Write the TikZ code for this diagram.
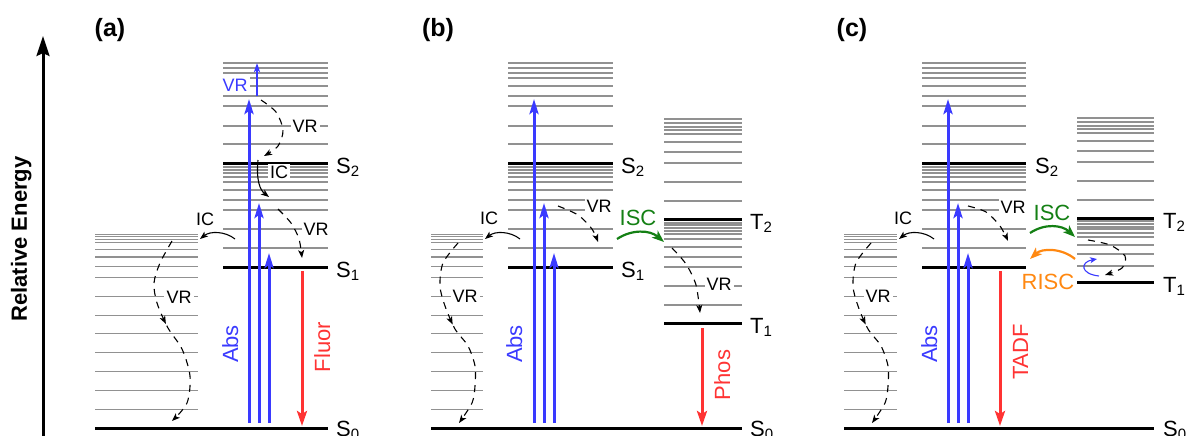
\documentclass[tikz,border=0pt]{standalone}
\usepackage{fontspec}
\setmainfont{Liberation Sans}
\usetikzlibrary{arrows.meta,decorations.markings}
\definecolor{absblue}{RGB}{58,58,255}
\definecolor{emred}{RGB}{255,51,51}
\definecolor{iscgreen}{RGB}{20,128,20}
\definecolor{riscorange}{RGB}{255,136,17}
\definecolor{vibgray}{RGB}{145,145,145}
\newcommand\sublvl[2]{#1\raisebox{-3pt}{\fontsize{15pt}{15pt}\selectfont #2}}
\newcommand\vibset[4]{\foreach \o in #4 {\draw[vib] (#1,#3-\o) -- (#2,#3-\o);}}
\def\groundvib{234.3,236.7,239.3,242.7,249.3,257,266.7,277.7,296.7,315.3,333.7,352.7,371.7,390.3,409.3}
\def\lowman{19,38,57,67,77,85,90,94,97,100}
\def\upman{19,37,57,67,77,85,90,95,100}
\def\tlowman{18,37,56,66,76,84,89,92,95,98,100}
\def\tupman{18,37,56,67,77,85,89,92,96,100}
\def\tlowmanc{16,28,37,45,49,53,55,58,61}
\tikzset{
  vib/.style={draw=vibgray, line width=1.5pt},
  elevel/.style={draw=black, line width=3pt},
  yaxisarrow/.style={draw=black, line width=3pt, -{Stealth[length=20pt,width=13pt,inset=3pt]}},
  absarrow/.style={draw=absblue, line width=3pt, -{Stealth[length=15pt,width=9pt,inset=3pt]}},
  emarrow/.style={draw=emred, line width=3pt, -{Stealth[length=15pt,width=10pt,inset=3pt]}},
  icarrow/.style={draw=black, line width=1.1pt, -{Stealth[length=8pt,width=6pt,inset=2pt]}},
  vrarrow/.style={icarrow, dash pattern=on 7pt off 6pt},
  midarrow/.style={postaction={decorate}, decoration={markings, mark=at position #1 with {\arrow{Stealth[length=8pt,width=6pt,inset=2pt]}}}},
  bigcurve/.style={line width=2.2pt, -{Stealth[length=12pt,width=9pt,inset=3pt]}},
  lvllabel/.style={anchor=base west, inner sep=0pt, font=\fontsize{22pt}{22pt}\selectfont},
  smalllab/.style={fill=white, inner sep=2pt, font=\fontsize{18pt}{18pt}\selectfont},
  midlab/.style={inner sep=0pt, font=\fontsize{22pt}{22pt}\selectfont},
  rotlabel/.style={rotate=90, anchor=base, inner sep=0pt, font=\fontsize{22pt}{22pt}\selectfont},
  panellab/.style={inner sep=0pt, font=\fontsize{25pt}{25pt}\bfseries\selectfont},
}
\begin{document}
\begin{tikzpicture}[x=1pt,y=-1pt]
\useasboundingbox (0,0) rectangle (1188,436);

% ---------- energy axis
\coordinate (axbot) at (43,440);
\coordinate (axtop) at (43,36);
\draw[yaxisarrow] (axbot) -- (axtop);
\node[rotate=90, anchor=base, inner sep=0pt, font=\fontsize{22pt}{22pt}\bfseries\selectfont] (ylab) at (27,239) {Relative Energy};

% =====================================================  panel (a)
\node[panellab] (pa) at (110,30) {(a)};
\foreach \y in \groundvib {\draw[vib] (95,\y) -- (198,\y);}
\vibset{223}{328}{267}{\lowman}
\vibset{223}{328}{163}{\upman}
\draw[elevel] (95,428) -- (328,428);
\draw[elevel] (223,267) -- (328,267);
\draw[elevel] (223,163) -- (328,163);
\node[lvllabel] (aS2) at (336,173) {\sublvl{S}{2}};
\node[lvllabel] (aS1) at (336,277) {\sublvl{S}{1}};
\node[lvllabel] (aS0) at (336,436) {\sublvl{S}{0}};
% labels
\node[smalllab, text=absblue] (aVRb) at (235,85) {VR};
\node[smalllab] (aVR1) at (305,126) {VR};
\node[smalllab] (aIC1) at (279,172) {IC};
\node[smalllab] (aVR2) at (316,229) {VR};
\node[smalllab] (aIC2) at (205,219) {IC};
\node[smalllab] (aVR3) at (179,297) {VR};
\node[rotlabel, text=absblue] (aAbs) at (238,344) {Abs};
\node[rotlabel, text=emred] (aFl) at (330,347) {Fluor};
% absorption
\coordinate (aA1b) at (249,423); \coordinate (aA1t) at (249,99);
\coordinate (aA2b) at (259,423); \coordinate (aA2t) at (259,203);
\coordinate (aA3b) at (269,423); \coordinate (aA3t) at (269,253);
\draw[absarrow] (aA1b) -- (aA1t);
\draw[absarrow] (aA2b) -- (aA2t);
\draw[absarrow] (aA3b) -- (aA3t);
\coordinate (aVb) at (257,96); \coordinate (aVt) at (257,63);
\draw[draw=absblue, line width=1.8pt, -{Stealth[length=9pt,width=6pt,inset=2pt]}] (aVb) -- (aVt);
% emission
\coordinate (aFs) at (302,271); \coordinate (aFe) at (302,426);
\draw[emarrow] (aFs) -- (aFe);
% relaxation
\coordinate (aR1s) at (261,100); \coordinate (aR1e) at (264,156);
\draw[vrarrow] plot[smooth] coordinates {(aR1s) (276,112) (283,130) (278,146) (aR1e)};
\coordinate (aI1s) at (258,160); \coordinate (aI1e) at (269,197);
\draw[icarrow] (aI1s) .. controls (256,180) and (260,190) .. (aI1e);
\coordinate (aR2s) at (278,209); \coordinate (aR2e) at (302,258);
\draw[vrarrow] plot[smooth] coordinates {(aR2s) (291,223) (299,239) (aR2e)};
\coordinate (aI2s) at (235,239); \coordinate (aI2e) at (200,239);
\draw[icarrow] (aI2s) .. controls (225,231) and (210,231) .. (aI2e);
\coordinate (aR3s) at (172,241); \coordinate (aR3e) at (172,421);
\draw[vrarrow, midarrow=0.45] plot[smooth] coordinates {(aR3s) (160,263) (154,283) (157,303) (168,328) (182,349) (190,376) (187,403) (aR3e)};

% =====================================================  panel (b)
\node[panellab] (pb) at (438,30) {(b)};
\foreach \y in \groundvib {\draw[vib] (431,\y) -- (483,\y);}
\vibset{508}{613}{267}{\lowman}
\vibset{508}{613}{163}{\upman}
\vibset{664}{742}{323}{\tlowman}
\vibset{664}{742}{219}{\tupman}
\draw[elevel] (431,428) -- (742,428);
\draw[elevel] (508,267) -- (613,267);
\draw[elevel] (508,163) -- (613,163);
\draw[elevel] (664,323) -- (742,323);
\draw[elevel] (664,219) -- (742,219);
\node[lvllabel] (bS2) at (621,173) {\sublvl{S}{2}};
\node[lvllabel] (bS1) at (621,277) {\sublvl{S}{1}};
\node[lvllabel] (bT2) at (750,229) {\sublvl{T}{2}};
\node[lvllabel] (bT1) at (750,333) {\sublvl{T}{1}};
\node[lvllabel] (bS0) at (750,436) {\sublvl{S}{0}};
\node[smalllab] (bIC) at (489,218) {IC};
\node[smalllab] (bVR1) at (599,206) {VR};
\node[smalllab] (bVR2) at (465,296) {VR};
\node[smalllab] (bVR3) at (719,284) {VR};
\node[midlab, text=iscgreen] (bISC) at (638,218) {ISC};
\node[rotlabel, text=absblue] (bAbs) at (522,344) {Abs};
\node[rotlabel, text=emred] (bPh) at (730,375) {Phos};
\coordinate (bA1b) at (534,423); \coordinate (bA1t) at (534,99);
\coordinate (bA2b) at (544,423); \coordinate (bA2t) at (544,203);
\coordinate (bA3b) at (554,423); \coordinate (bA3t) at (554,253);
\draw[absarrow] (bA1b) -- (bA1t);
\draw[absarrow] (bA2b) -- (bA2t);
\draw[absarrow] (bA3b) -- (bA3t);
\coordinate (bPs) at (702,328); \coordinate (bPe) at (702,426);
\draw[emarrow] (bPs) -- (bPe);
\coordinate (bI1s) at (520,239); \coordinate (bI1e) at (485,239);
\draw[icarrow] (bI1s) .. controls (510,231) and (495,231) .. (bI1e);
\coordinate (bR1s) at (558,206); \coordinate (bR1e) at (598,242);
\draw[vrarrow] plot[smooth] coordinates {(bR1s) (578,215) (592,229) (bR1e)};
\coordinate (bR2s) at (458,243); \coordinate (bR2e) at (459,423);
\draw[vrarrow, midarrow=0.45] plot[smooth] coordinates {(bR2s) (443,263) (440,286) (445,306) (455,329) (468,346) (475,366) (475,386) (472,403) (bR2e)};
\coordinate (bISs) at (617,239); \coordinate (bISe) at (664,242);
\draw[bigcurve, draw=iscgreen] (bISs) .. controls (632,229) and (650,230) .. (bISe);
\coordinate (bR3s) at (672,248); \coordinate (bR3e) at (700,313);
\draw[vrarrow] plot[smooth] coordinates {(bR3s) (686,264) (696,285) (bR3e)};

% =====================================================  panel (c)
\node[panellab] (pc) at (852,30) {(c)};
\foreach \y in \groundvib {\draw[vib] (844,\y) -- (897,\y);}
\vibset{922}{1026}{267}{\lowman}
\vibset{922}{1026}{163}{\upman}
\vibset{1077}{1154}{282}{\tlowmanc}
\vibset{1077}{1154}{218}{\tupman}
\draw[elevel] (844,428) -- (1154,428);
\draw[elevel] (922,267) -- (1026,267);
\draw[elevel] (922,163) -- (1026,163);
\draw[elevel] (1077,282) -- (1154,282);
\draw[elevel] (1077,218) -- (1154,218);
\node[lvllabel] (cS2) at (1035,173) {\sublvl{S}{2}};
\node[lvllabel] (cT2) at (1163,228) {\sublvl{T}{2}};
\node[lvllabel] (cT1) at (1163,292) {\sublvl{T}{1}};
\node[lvllabel] (cS0) at (1163,436) {\sublvl{S}{0}};
\node[smalllab] (cIC) at (903,218) {IC};
\node[smalllab] (cVR1) at (1013,207) {VR};
\node[smalllab] (cVR2) at (878,296) {VR};
\node[midlab, text=iscgreen] (cISC) at (1052,213) {ISC};
\node[midlab, text=riscorange] (cRISC) at (1048,282) {RISC};
\node[rotlabel, text=absblue] (cAbs) at (937,344) {Abs};
\node[rotlabel, text=emred] (cTADF) at (1028,352) {TADF};
\coordinate (cA1b) at (948,423); \coordinate (cA1t) at (948,99);
\coordinate (cA2b) at (958,423); \coordinate (cA2t) at (958,203);
\coordinate (cA3b) at (968,423); \coordinate (cA3t) at (968,253);
\draw[absarrow] (cA1b) -- (cA1t);
\draw[absarrow] (cA2b) -- (cA2t);
\draw[absarrow] (cA3b) -- (cA3t);
\coordinate (cTs) at (1000,271); \coordinate (cTe) at (1000,426);
\draw[emarrow] (cTs) -- (cTe);
\coordinate (cI1s) at (934,239); \coordinate (cI1e) at (899,239);
\draw[icarrow] (cI1s) .. controls (924,231) and (909,231) .. (cI1e);
\coordinate (cR1s) at (968,206); \coordinate (cR1e) at (1008,241);
\draw[vrarrow] plot[smooth] coordinates {(cR1s) (986,212) (1000,226) (cR1e)};
\coordinate (cR2s) at (871,243); \coordinate (cR2e) at (872,423);
\draw[vrarrow, midarrow=0.45] plot[smooth] coordinates {(cR2s) (856,263) (853,286) (858,306) (868,329) (881,346) (888,366) (888,386) (885,403) (cR2e)};
\coordinate (cISs) at (1030,233); \coordinate (cISe) at (1075,237);
\draw[bigcurve, draw=iscgreen] (cISs) .. controls (1045,223) and (1062,225) .. (cISe);
\coordinate (cRIs) at (1075,259); \coordinate (cRIe) at (1030,259);
\draw[bigcurve, draw=riscorange] (cRIs) .. controls (1062,248) and (1042,248) .. (cRIe);
\coordinate (cBs) at (1099,276); \coordinate (cBe) at (1097,259);
\draw[draw=absblue, line width=1.1pt, -{Stealth[length=7pt,width=6pt,inset=2pt]}] (cBs) .. controls (1080,274) and (1080,262) .. (cBe);
\coordinate (cR3s) at (1088,240); \coordinate (cR3e) at (1105,275);
\draw[vrarrow] plot[smooth] coordinates {(cR3s) (1110,245) (1125,256) (1122,268) (cR3e)};
\end{tikzpicture}
\end{document}
